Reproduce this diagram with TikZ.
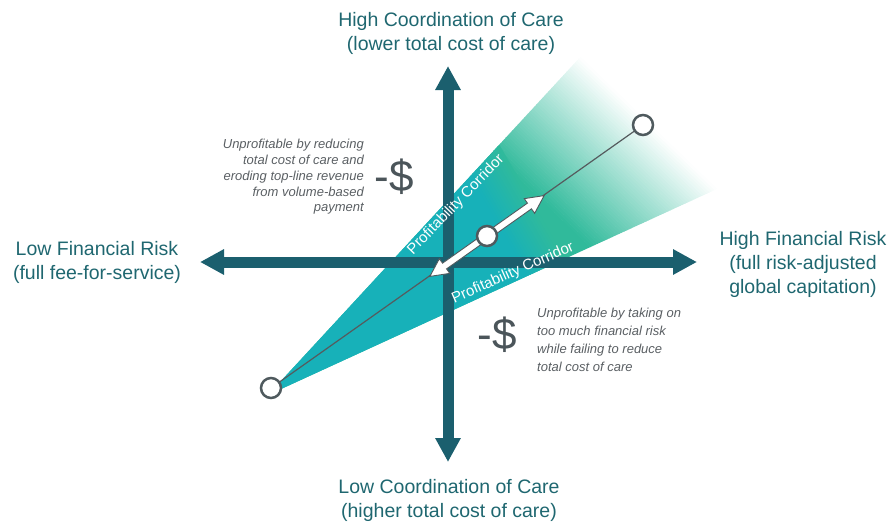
\documentclass[tikz,border=0pt]{standalone}
\usepackage{fontspec}
\setmainfont{Liberation Sans}
\usetikzlibrary{arrows.meta}
\definecolor{axiscol}{HTML}{1B5F6E}
\definecolor{labelcol}{HTML}{1F6770}
\definecolor{graytext}{HTML}{5A5F63}
\definecolor{dollarcol}{HTML}{4B555A}
\definecolor{wedgeteal}{HTML}{17B1B9}
\definecolor{wedgegreen}{HTML}{30BA9B}
\definecolor{dotcol}{HTML}{4F5A5E}
\definecolor{linecol}{HTML}{555B5E}
% strip perpendicular to direction (#4,-#5) from the apex (268,395), between distances #1 and #2
\newcommand\wedgestrip[5]{%
  \pgfmathsetmacro\wxa{268+#1*#4+600*#5}\pgfmathsetmacro\wya{395-#1*#5+600*#4}%
  \pgfmathsetmacro\wxb{268+#1*#4-600*#5}\pgfmathsetmacro\wyb{395-#1*#5-600*#4}%
  \pgfmathsetmacro\wxc{268+#2*#4-600*#5}\pgfmathsetmacro\wyc{395-#2*#5-600*#4}%
  \pgfmathsetmacro\wxd{268+#2*#4+600*#5}\pgfmathsetmacro\wyd{395-#2*#5+600*#4}%
  \fill[#3] (\wxa,\wya) -- (\wxb,\wyb) -- (\wxc,\wyc) -- (\wxd,\wyd) -- cycle;}
\begin{document}
\begin{tikzpicture}[x=1pt,y=-1pt,
  axis/.style={line width=11pt, draw=axiscol,
    arrows={Triangle[length=24pt,width=24pt]-Triangle[length=24pt,width=24pt]}},
  axislabel/.style={text=labelcol, align=center, inner sep=0pt,
    font=\fontsize{19.5}{24}\selectfont},
  note/.style={text=graytext, inner sep=0pt, font=\itshape\fontsize{13}{15.8}\selectfont},
  corridor/.style={text=white, inner sep=0pt, font=\fontsize{15}{16}\selectfont},
  dollar/.style={text=dollarcol, inner sep=0pt, font=\fontsize{44}{44}\selectfont},
  dot/.style={circle, draw=dotcol, line width=2.5pt, fill=white,
    minimum size=20pt, inner sep=0pt},
  centerline/.style={draw=linecol, line width=1.2pt},
  whitearrow/.style={fill=white, draw=dotcol, line width=0.9pt, line join=miter}]
\useasboundingbox (0,0) rectangle (889,523);
% corridor wedge
\begin{scope}
  \clip (268,395) -- (633,0) -- (889,0) -- (889,110) -- cycle;
  % green part fading to white towards the upper right
  \wedgestrip{-50}{330.5}{wedgegreen}{0.695}{0.719}
  \foreach \i in {0,...,51} {
    \pgfmathsetmacro\ta{330+2.5*\i}
    \pgfmathsetmacro\tb{\ta+3}
    \pgfmathsetmacro\pc{100-(\i+0.5)*100/52}
    \wedgestrip{\ta}{\tb}{wedgegreen!\pc!white}{0.695}{0.719}
  }
  % teal part near the apex
  \wedgestrip{-20}{285.5}{wedgeteal}{0.866}{0.5}
  \foreach \i in {0,...,15} {
    \pgfmathsetmacro\ta{285+2.5*\i}
    \pgfmathsetmacro\tb{\ta+3}
    \pgfmathsetmacro\pc{100*(\i+0.5)/16}
    \wedgestrip{\ta}{\tb}{wedgegreen!\pc!wedgeteal}{0.866}{0.5}
  }
\end{scope}
% axes
\coordinate (L) at (200,262);
\coordinate (R) at (697,262);
\coordinate (T) at (448,66);
\coordinate (B) at (448,462);
\draw[axis] (L) -- (R);
\draw[axis] (B) -- (T);
% axis labels
\node[axislabel] (toplab) at (451,33) {High Coordination of Care\\(lower total cost of care)};
\node[axislabel] (botlab) at (449,500) {Low Coordination of Care\\(higher total cost of care)};
\node[axislabel] (leftlab) at (97,262) {Low Financial Risk\\(full fee-for-service)};
\node[axislabel] (rightlab) at (803,264) {High Financial Risk\\(full risk-adjusted\\global capitation)};
% notes
\node[note, align=right, anchor=east] (note1) at (364,177) {Unprofitable by reducing\\total cost of care and\\eroding top-line revenue\\from volume-based\\payment};
\node[note, align=left, anchor=west, font=\itshape\fontsize{13}{18}\selectfont] (note2) at (537,340) {Unprofitable by taking on\\too much financial risk\\while failing to reduce\\total cost of care};
\node[dollar] (d1) at (394,177) {-\$};
\node[dollar] (d2) at (497,335) {-\$};
% corridor labels
\node[corridor, rotate=46] (cor1) at (456,205) {Profitability Corridor};
\node[corridor, rotate=23.8] (cor2) at (513,273) {Profitability Corridor};
% path line and arrow
\coordinate (p1) at (271,388);
\coordinate (p2) at (487,236);
\coordinate (p3) at (643,125);
\draw[centerline] (p1) -- (p3);
\begin{scope}[shift={(p2)}, rotate=35.26]
  \filldraw[whitearrow] (-70,0) -- (-52,9) -- (-52,3.5) -- (52,3.5) -- (52,9) -- (70,0)
    -- (52,-9) -- (52,-3.5) -- (-52,-3.5) -- (-52,-9) -- cycle;
\end{scope}
\node[dot] (n1) at (p1) {};
\node[dot] (n2) at (p2) {};
\node[dot] (n3) at (p3) {};
\end{tikzpicture}
\end{document}
